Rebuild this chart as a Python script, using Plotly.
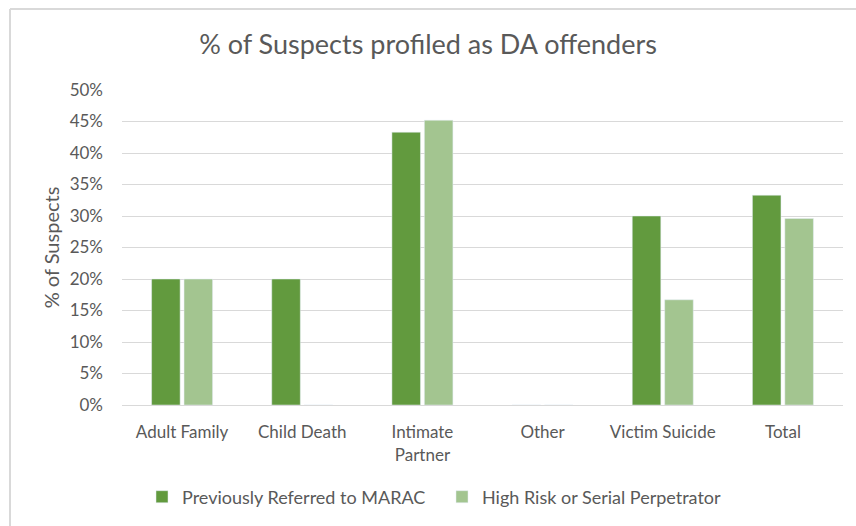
import plotly.graph_objects as go

categories = ["Adult Family", "Child Death", "Intimate<br>Partner", "Other", "Victim Suicide", "Total"]
marac = [0.20, 0.20, 0.433, 0.0, 0.30, 0.333]
high_risk = [0.20, 0.0, 0.452, 0.0, 0.167, 0.296]
series_names = ["Previously Referred to MARAC", "High Risk or Serial Perpetrator"]
tick_vals = [0, 0.05, 0.10, 0.15, 0.20, 0.25, 0.30, 0.35, 0.40, 0.45, 0.50]

FONT = "Lato, Liberation Sans, sans-serif"
TXT = "#595959"

fig = go.Figure()
fig.add_bar(x=categories, y=marac, name=series_names[0], marker_color="#629A3E")
fig.add_bar(x=categories, y=high_risk, name=series_names[1], marker_color="#A3C590")

W, H = 856, 526
l, r, t, b = 122, 13, 90, 121
pw, ph = W - l - r, H - t - b

fig.update_layout(
    width=W, height=H,
    margin=dict(l=l, r=r, t=t, b=b, autoexpand=False),
    paper_bgcolor="white", plot_bgcolor="white",
    font=dict(family=FONT, color=TXT, size=17),
    title=dict(text="% of Suspects profiled as DA offenders", x=0.5, xanchor="center",
               y=1 - 45 / H, yanchor="middle", font=dict(size=27, color=TXT, family=FONT)),
    barmode="group", bargap=0.46, bargroupgap=0.12,
    showlegend=True,
    legend=dict(orientation="h", x=(142 - l) / pw, xanchor="left", y=-(497 - 405) / ph, yanchor="middle",
                font=dict(size=18, color=TXT), traceorder="normal", itemwidth=30,
                entrywidth=255, entrywidthmode="pixels"),
    xaxis=dict(showgrid=False, showline=True, linecolor="#d9d9d9", linewidth=1,
               ticks="", ticklabelstandoff=12, tickfont=dict(size=17, color=TXT), fixedrange=True),
    yaxis=dict(range=[0, 0.5], tickvals=tick_vals, tickformat=".0%", showgrid=True,
               gridcolor="#d9d9d9", gridwidth=1, zeroline=False, showline=False,
               ticks="", ticklabelstandoff=18, tickfont=dict(size=17, color=TXT),
               title=dict(text="% of Suspects", font=dict(size=20, color=TXT), standoff=4)),
)

# outer chart border (left and top edges visible)
fig.add_shape(type="line", xref="paper", yref="paper",
              x0=(10 - l) / pw, x1=(10 - l) / pw, y0=(H - b - H) / ph, y1=(H - b - 9) / ph,
              line=dict(color="#d9d9d9", width=2))
fig.add_shape(type="line", xref="paper", yref="paper",
              x0=(10 - l) / pw, x1=(W - l) / pw, y0=(H - b - 9) / ph, y1=(H - b - 9) / ph,
              line=dict(color="#d9d9d9", width=2))

fig.write_html("out.html", config={"displayModeBar": False},
               post_script="document.body.style.margin='0';document.body.style.overflow='hidden';")
